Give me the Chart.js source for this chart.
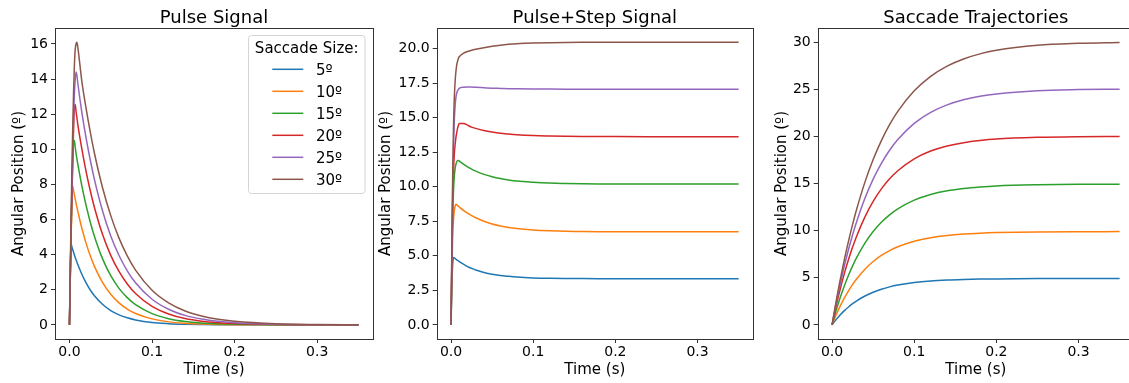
<!DOCTYPE html>
<html>
<head>
<meta charset="utf-8">
<script src="https://cdn.jsdelivr.net/npm/chart.js@4.4.0/dist/chart.umd.min.js"></script>
<style>
  html, body { margin: 0; padding: 0; background: #fff; width: 1129px; height: 383px; overflow: hidden; position: relative; }
  canvas { position: absolute; top: 0; }
</style>
</head>
<body>
<canvas id="pulse" width="378" height="383" style="left:0px"></canvas>
<canvas id="pulseStep" width="386" height="383" style="left:372px"></canvas>
<canvas id="trajectory" width="379" height="383" style="left:760px"></canvas>
<script>
// Sample times (s)
const timeS = [0, 0.001, 0.002, 0.003, 0.004, 0.005, 0.006, 0.007, 0.008, 0.009, 0.010,
               0.015, 0.020, 0.025, 0.030, 0.040, 0.050, 0.060, 0.070, 0.080,
               0.100, 0.120, 0.140, 0.160, 0.180, 0.200, 0.250, 0.300, 0.350];

// Saccade sizes (degrees)
const sizes = [5, 10, 15, 20, 25, 30];

// Pulse signal (deg)
const pulse05 = [0, 3.0, 4.6, 4.44, 4.28, 4.13, 3.98, 3.84, 3.71, 3.58, 3.45, 2.88, 2.40, 2.00, 1.67, 1.17, 0.81, 0.57, 0.40, 0.28, 0.13, 0.065, 0.032, 0.016, 0.008, 0.004, 0.001, 0, 0];
const pulse10 = [0, 2.6, 5.0, 6.9, 7.9, 7.64, 7.40, 7.16, 6.93, 6.70, 6.49, 5.50, 4.67, 3.96, 3.36, 2.42, 1.74, 1.25, 0.90, 0.65, 0.34, 0.17, 0.09, 0.047, 0.024, 0.012, 0.002, 0, 0];
const pulse15 = [0, 2.7, 5.3, 7.5, 9.2, 10.4, 10.5, 10.1, 9.75, 9.46, 9.18, 7.92, 6.83, 5.89, 5.08, 3.77, 2.80, 2.08, 1.55, 1.15, 0.64, 0.35, 0.19, 0.107, 0.059, 0.033, 0.008, 0.002, 0];
const pulse20 = [0, 2.7, 5.2, 7.5, 9.5, 11.1, 12.4, 12.55, 12.15, 11.8, 11.45, 10.02, 8.77, 7.68, 6.73, 5.16, 3.96, 3.04, 2.33, 1.79, 1.05, 0.62, 0.36, 0.21, 0.126, 0.074, 0.02, 0.005, 0.001];
const pulse25 = [0, 2.9, 5.6, 8.0, 10.1, 11.9, 13.2, 14.0, 14.4, 14.2, 13.8, 12.10, 10.68, 9.43, 8.33, 6.50, 5.06, 3.95, 3.08, 2.40, 1.46, 0.89, 0.54, 0.33, 0.20, 0.12, 0.035, 0.01, 0.003];
const pulse30 = [0, 3.2, 6.2, 8.9, 11.3, 13.3, 14.8, 15.7, 16.0, 16.1, 15.85, 13.87, 12.37, 11.03, 9.83, 7.82, 6.22, 4.94, 3.93, 3.12, 1.97, 1.25, 0.79, 0.50, 0.315, 0.20, 0.063, 0.02, 0.006];

// Pulse+step signal (deg)
const step05 = [0, 2.9, 4.4, 4.88, 4.85, 4.80, 4.75, 4.70, 4.66, 4.62, 4.58, 4.39, 4.22, 4.09, 3.97, 3.79, 3.67, 3.57, 3.51, 3.46, 3.40, 3.37, 3.356, 3.348, 3.344, 3.342, 3.34, 3.34, 3.34];
const step10 = [0, 4.0, 6.5, 7.7, 8.3, 8.6, 8.72, 8.69, 8.64, 8.58, 8.53, 8.29, 8.08, 7.90, 7.75, 7.50, 7.30, 7.16, 7.05, 6.97, 6.87, 6.81, 6.77, 6.755, 6.745, 6.74, 6.73, 6.73, 6.73];
const step15 = [0, 4.5, 8.0, 9.8, 10.8, 11.35, 11.65, 11.82, 11.9, 11.9, 11.85, 11.63, 11.44, 11.27, 11.13, 10.89, 10.72, 10.59, 10.49, 10.41, 10.32, 10.26, 10.23, 10.21, 10.20, 10.195, 10.19, 10.19, 10.19];
const step20 = [0, 5.0, 9.0, 11.2, 12.4, 13.1, 13.6, 13.95, 14.25, 14.45, 14.57, 14.58, 14.45, 14.31, 14.22, 14.07, 13.96, 13.87, 13.81, 13.76, 13.70, 13.67, 13.65, 13.635, 13.63, 13.625, 13.62, 13.62, 13.62];
const step25 = [0, 5.5, 10.0, 13.0, 14.9, 15.9, 16.5, 16.8, 16.95, 17.05, 17.12, 17.2, 17.22, 17.21, 17.19, 17.16, 17.13, 17.11, 17.09, 17.08, 17.065, 17.06, 17.055, 17.05, 17.05, 17.05, 17.05, 17.05, 17.05];
const step30 = [0, 6.0, 11.0, 14.5, 16.5, 17.7, 18.4, 18.85, 19.1, 19.3, 19.4, 19.65, 19.78, 19.87, 19.94, 20.06, 20.16, 20.24, 20.30, 20.34, 20.39, 20.42, 20.44, 20.45, 20.455, 20.46, 20.46, 20.46, 20.46];

// Eye position trajectories (deg)
const traj05 = [0, 0.12, 0.235, 0.35, 0.46, 0.57, 0.67, 0.77, 0.87, 0.97, 1.07, 1.51, 1.90, 2.25, 2.56, 3.07, 3.47, 3.79, 4.04, 4.23, 4.50, 4.67, 4.77, 4.83, 4.87, 4.89, 4.92, 4.93, 4.93];
const traj10 = [0, 0.223, 0.441, 0.654, 0.862, 1.065, 1.265, 1.459, 1.649, 1.835, 2.017, 2.866, 3.623, 4.300, 4.903, 5.923, 6.736, 7.383, 7.899, 8.310, 8.898, 9.271, 9.508, 9.659, 9.755, 9.815, 9.886, 9.909, 9.917];
const traj15 = [0, 0.322, 0.637, 0.945, 1.247, 1.542, 1.831, 2.114, 2.389, 2.660, 2.925, 4.166, 5.278, 6.277, 7.172, 8.696, 9.922, 10.91, 11.70, 12.34, 13.27, 13.87, 14.26, 14.51, 14.67, 14.78, 14.90, 14.95, 14.96];
const traj20 = [0, 0.422, 0.835, 1.240, 1.636, 2.023, 2.404, 2.775, 3.138, 3.495, 3.844, 5.478, 6.949, 8.271, 9.460, 11.49, 13.13, 14.46, 15.53, 16.39, 17.66, 18.49, 19.03, 19.38, 19.61, 19.77, 19.95, 20.02, 20.04];
const traj25 = [0, 0.478, 0.947, 1.407, 1.858, 2.301, 2.736, 3.160, 3.579, 3.988, 4.390, 6.290, 8.014, 9.581, 11.00, 13.47, 15.50, 17.18, 18.57, 19.71, 21.43, 22.60, 23.40, 23.94, 24.31, 24.56, 24.90, 25.02, 25.07];
const traj30 = [0, 0.523, 1.038, 1.543, 2.040, 2.528, 3.008, 3.479, 3.943, 4.398, 4.843, 6.965, 8.907, 10.69, 12.32, 15.18, 17.58, 19.60, 21.29, 22.70, 24.89, 26.43, 27.52, 28.28, 28.82, 29.20, 29.73, 29.94, 30.04];

// Tick values
const timeTicks = [0, 0.1, 0.2, 0.3];
const pulseTicks = [0, 2, 4, 6, 8, 10, 12, 14, 16];
const stepTicks = [0, 2.5, 5, 7.5, 10, 12.5, 15, 17.5, 20];
const trajTicks = [0, 5, 10, 15, 20, 25, 30];

const colors = ['#1f77b4', '#ff7f0e', '#2ca02c', '#d62728', '#9467bd', '#8c564b'];
const FONT = "'DejaVu Sans', 'Liberation Sans', sans-serif";

Chart.defaults.font.family = FONT;
Chart.defaults.color = '#000';

// Pads an axis range by 5% on each side
function padded(lo, hi) {
  const m = (hi - lo) * 0.05;
  return [lo - m, hi + m];
}

function makeDatasets(series) {
  return series.map((vals, i) => ({
    label: sizes[i] + 'º',
    data: vals.map((v, k) => ({ x: timeS[k], y: v })),
    borderColor: colors[i],
    backgroundColor: colors[i],
    borderWidth: 1.5,
    pointRadius: 0,
    cubicInterpolationMode: 'monotone',
    fill: false,
    order: series.length - 1 - i
  }));
}

// Frame, title and (optionally) legend drawn on each panel
function panelDecor(title, withLegend) {
  return {
    id: 'panelDecor',
    afterDatasetsDraw(chart) {
      const { ctx, chartArea: a } = chart;
      ctx.save();
      ctx.strokeStyle = '#333';
      ctx.lineWidth = 1;
      const l = Math.round(a.left) + 0.5, r = Math.round(a.right) + 0.5;
      const t = Math.round(a.top) + 0.5, b = Math.round(a.bottom) + 0.5;
      ctx.strokeRect(l, t, r - l, b - t);

      ctx.fillStyle = '#000';
      ctx.font = '18px ' + FONT;
      ctx.textAlign = 'center';
      ctx.textBaseline = 'alphabetic';
      ctx.fillText(title, (a.left + a.right) / 2, 22.5);

      if (withLegend) {
        const bx = 248.5, by = 35.5, bw = 116.5, bh = 158;
        ctx.fillStyle = 'rgba(255,255,255,0.85)';
        ctx.strokeStyle = '#d4d4d4';
        ctx.beginPath();
        ctx.roundRect(bx, by, bw, bh, 3);
        ctx.fill();
        ctx.stroke();
        ctx.fillStyle = '#000';
        ctx.font = '15px ' + FONT;
        ctx.textAlign = 'center';
        ctx.fillText('Saccade Size:', bx + bw / 2, 52.5);
        ctx.textAlign = 'left';
        chart.data.datasets.forEach((ds, i) => {
          const y = 69.3 + i * 22;
          ctx.strokeStyle = ds.borderColor;
          ctx.lineWidth = 1.5;
          ctx.beginPath();
          ctx.moveTo(272.3, y);
          ctx.lineTo(303.3, y);
          ctx.stroke();
          ctx.fillStyle = '#000';
          ctx.fillText(ds.label, 316, y + 5.5);
        });
      }
      ctx.restore();
    }
  };
}

function makePanel(id, cfg) {
  const [xMin, xMax] = padded(0, 0.35);
  const [yMin, yMax] = padded(cfg.dataMin, cfg.dataMax);
  new Chart(document.getElementById(id), {
    type: 'line',
    data: { datasets: makeDatasets(cfg.series) },
    options: {
      responsive: false,
      animation: false,
      events: [],
      layout: { padding: { top: 28, right: 5, bottom: 0, left: 0 } },
      plugins: { legend: { display: false }, tooltip: { enabled: false }, title: { display: false } },
      scales: {
        x: {
          type: 'linear',
          min: xMin, max: xMax,
          afterFit: s => { s.height = 44; },
          afterBuildTicks: s => { s.ticks = timeTicks.map(v => ({ value: v })); },
          ticks: { callback: v => v.toFixed(1), font: { size: 14 }, padding: 1, maxRotation: 0, autoSkip: false, color: '#000' },
          grid: { drawOnChartArea: false, drawTicks: true, tickLength: 4, color: '#333', lineWidth: 1 },
          border: { display: false },
          title: { display: true, text: 'Time (s)', font: { size: 15 }, padding: { top: 0, bottom: 3.5 }, color: '#000' }
        },
        y: {
          type: 'linear',
          min: yMin, max: yMax,
          afterFit: s => { s.width = cfg.axisWidth; },
          afterBuildTicks: s => { s.ticks = cfg.ticks.map(v => ({ value: v })); },
          ticks: { callback: cfg.fmt, font: { size: 14 }, padding: 3, autoSkip: false, color: '#000' },
          grid: { drawOnChartArea: false, drawTicks: true, tickLength: 4, color: '#333', lineWidth: 1 },
          border: { display: false },
          title: { display: true, text: 'Angular Position (º)', font: { size: 15 }, padding: { top: cfg.titlePad, bottom: 0 }, color: '#000' }
        }
      }
    },
    plugins: [panelDecor(cfg.title, cfg.legend)]
  });
}

makePanel('pulse', {
  title: 'Pulse Signal',
  series: [pulse05, pulse10, pulse15, pulse20, pulse25, pulse30],
  dataMin: 0, dataMax: 16.1,
  ticks: pulseTicks, fmt: v => String(v),
  axisWidth: 55, titlePad: 10.3, legend: true
});

makePanel('pulseStep', {
  title: 'Pulse+Step Signal',
  series: [step05, step10, step15, step20, step25, step30],
  dataMin: 0, dataMax: 20.46,
  ticks: stepTicks, fmt: v => v.toFixed(1),
  axisWidth: 64.7, titlePad: 5, legend: false
});

makePanel('trajectory', {
  title: 'Saccade Trajectories',
  series: [traj05, traj10, traj15, traj20, traj25, traj30],
  dataMin: 0, dataMax: 30.07,
  ticks: trajTicks, fmt: v => String(v),
  axisWidth: 57.7, titlePad: 12.7, legend: false
});
</script>
</body>
</html>
